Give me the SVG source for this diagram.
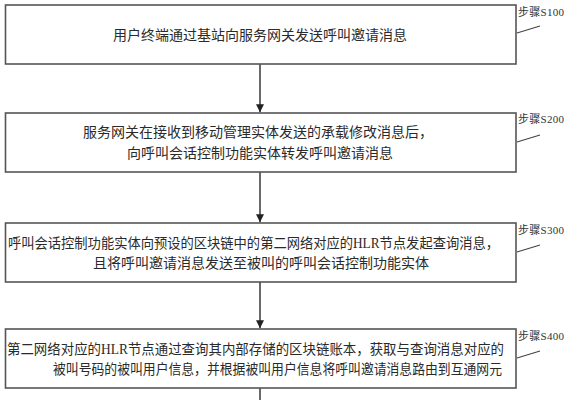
<svg xmlns="http://www.w3.org/2000/svg" width="570" height="400" viewBox="0 0 570 400">
<defs>
<style>
.box{fill:#fff;stroke:#555;stroke-width:1.6}
.t{font-family:"Liberation Serif","Noto Sans CJK SC",serif;font-size:14px;fill:#2a2a2a}
.c{text-anchor:middle}
.lbl{font-family:"Liberation Serif","Noto Sans CJK SC",serif;font-size:11px;fill:#333}
.ld{stroke:#444;stroke-width:1.2;fill:none}
.con{stroke:#444;stroke-width:1.6;fill:none}
</style>
<marker id="ah" viewBox="0 0 8 10" refX="8" refY="5" markerWidth="8" markerHeight="10" markerUnits="userSpaceOnUse" orient="auto">
<path d="M0,1 L8,5 L0,9 Z" fill="#222"/>
</marker>
</defs>
<rect width="570" height="400" fill="#fff"/>
<g id="connectors">
<line class="con" x1="260" y1="64" x2="260" y2="112.2" marker-end="url(#ah)"/>
<line class="con" x1="260" y1="172" x2="260" y2="222.2" marker-end="url(#ah)"/>
<line class="con" x1="260" y1="282" x2="260" y2="328.2" marker-end="url(#ah)"/>
<line class="con" x1="260" y1="388" x2="260" y2="400"/>
</g>
<g id="step1">
<rect class="box" x="5.5" y="5" width="510.5" height="59"/>
<text class="t c" x="260" y="40">用户终端通过基站向服务网关发送呼叫邀请消息</text>
<text class="lbl" x="518" y="16" textLength="46">步骤S100</text>
<line class="ld" x1="517" y1="33" x2="540" y2="26"/>
</g>
<g id="step2">
<rect class="box" x="5.5" y="113" width="510.5" height="59"/>
<text class="t c" x="258" y="137">服务网关在接收到移动管理实体发送的承载修改消息后，</text>
<text class="t c" x="260" y="158">向呼叫会话控制功能实体转发呼叫邀请消息</text>
<text class="lbl" x="518" y="123" textLength="46">步骤S200</text>
<line class="ld" x1="517" y1="142" x2="540" y2="135"/>
</g>
<g id="step3">
<rect class="box" x="5.5" y="223" width="510.5" height="59"/>
<text class="t" x="8" y="248" textLength="491" lengthAdjust="spacingAndGlyphs">呼叫会话控制功能实体向预设的区块链中的第二网络对应的HLR节点发起查询消息，</text>
<text class="t c" x="261" y="268">且将呼叫邀请消息发送至被叫的呼叫会话控制功能实体</text>
<text class="lbl" x="518" y="234" textLength="46">步骤S300</text>
<line class="ld" x1="517" y1="252" x2="540" y2="245"/>
</g>
<g id="step4">
<rect class="box" x="5.5" y="329" width="510.5" height="59"/>
<text class="t" x="7" y="354" textLength="497" lengthAdjust="spacingAndGlyphs">第二网络对应的HLR节点通过查询其内部存储的区块链账本，获取与查询消息对应的</text>
<text class="t" x="53" y="374" textLength="449" lengthAdjust="spacingAndGlyphs">被叫号码的被叫用户信息，并根据被叫用户信息将呼叫邀请消息路由到互通网元</text>
<text class="lbl" x="518" y="340" textLength="46">步骤S400</text>
<line class="ld" x1="517" y1="358" x2="540" y2="351"/>
</g>
</svg>
